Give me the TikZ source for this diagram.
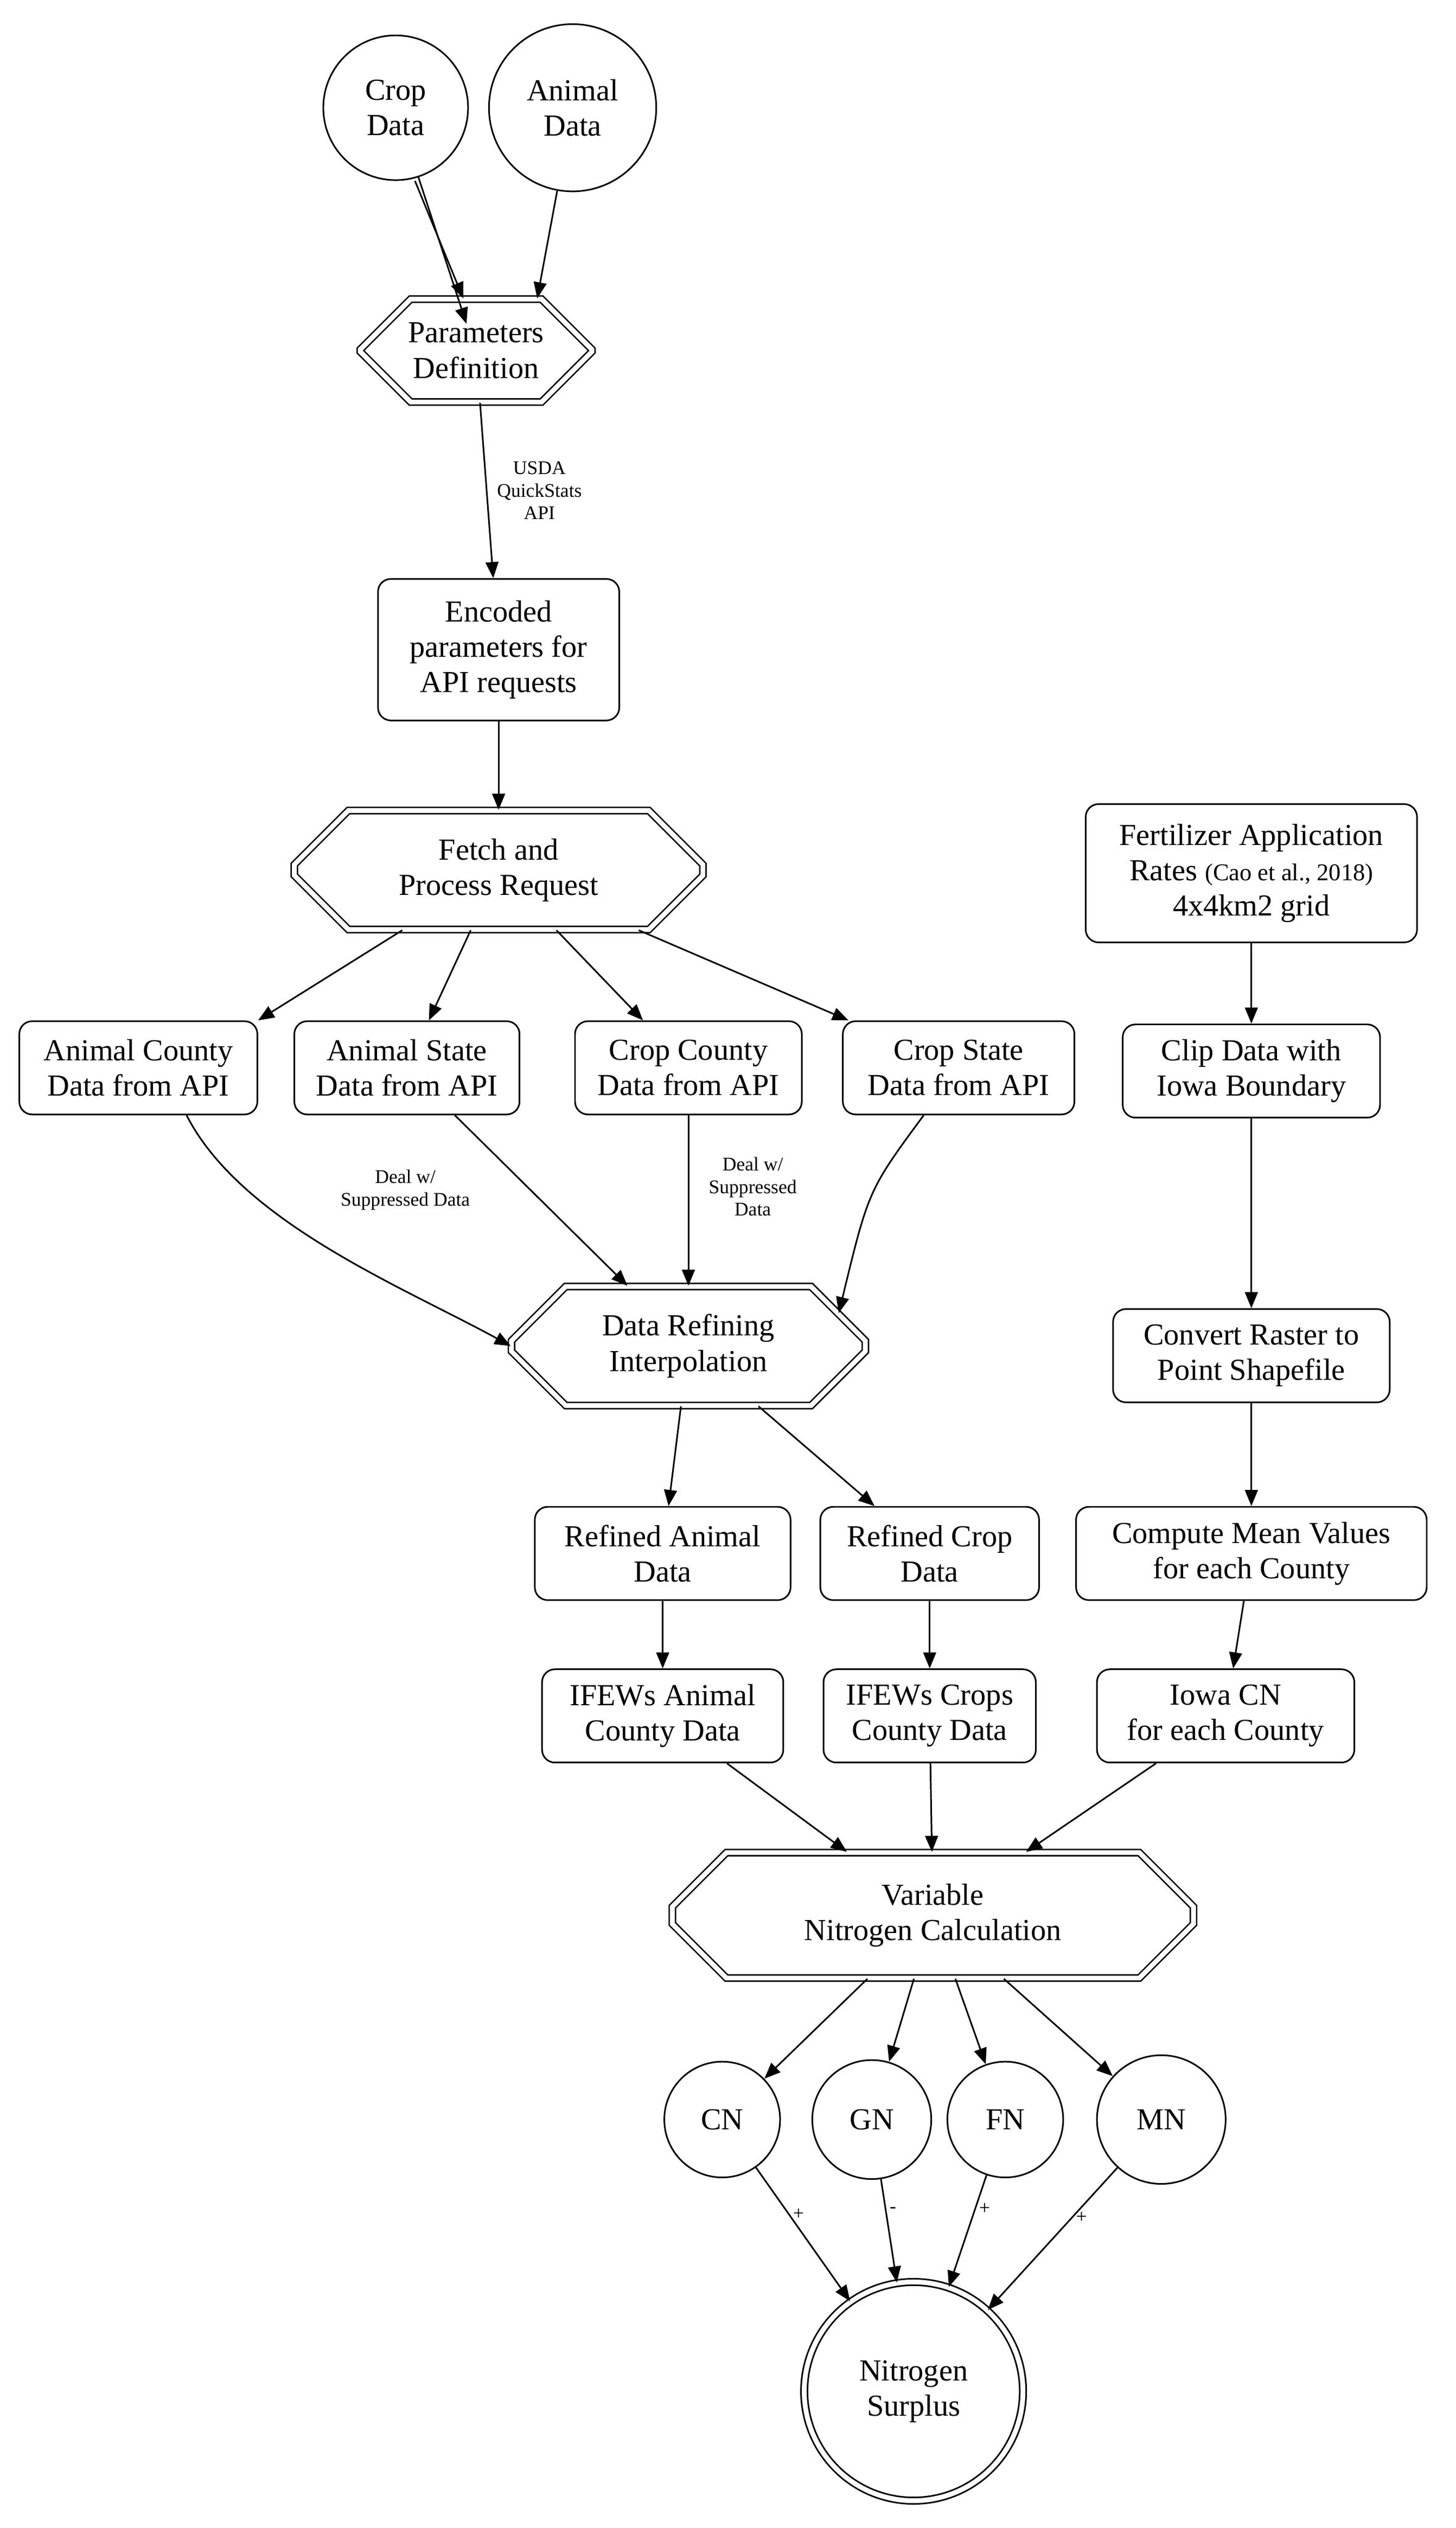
\documentclass[tikz,border=0pt]{standalone}
\usepackage{fontspec}
\setmainfont{Liberation Serif}
\usetikzlibrary{shapes.misc,shapes.geometric,arrows.meta}
\begin{document}
\begin{tikzpicture}[x=1pt,y=-1pt,
  every node/.style={font=\fontsize{19}{22}\selectfont,align=center,inner sep=0pt},
  box/.style={draw,rounded corners=8pt,line width=1pt},
  circ/.style={draw,circle,line width=1pt},
  oct/.style={draw,chamfered rectangle,chamfered rectangle xsep=28pt,chamfered rectangle ysep=14pt,double,double distance=3pt,line width=0.9pt},
  lab/.style={font=\fontsize{12}{14}\selectfont},
  arr/.style={-{Triangle[length=10pt,width=8pt]},line width=1pt}]
\useasboundingbox[fill=white] (0,0) rectangle (905,1572);
\node[circ,minimum size=90pt] (crop) at (246,67) {Crop\\Data};
\node[circ,minimum size=104pt] (anim) at (356,67) {Animal\\Data};
\node[oct,minimum width=144pt,minimum height=64pt] (param) at (296,218) {Parameters\\Definition};
\node[box,minimum width=150pt,minimum height=88pt] (enc) at (310,404) {Encoded\\parameters for\\API requests};
\node[oct,minimum width=254pt,minimum height=74pt] (fetch) at (310,541) {Fetch and\\Process Request};
\node[box,minimum width=148pt,minimum height=58pt] (ac) at (86,664) {Animal County\\Data from API};
\node[box,minimum width=140pt,minimum height=58pt] (as) at (253,664) {Animal State\\Data from API};
\node[box,minimum width=141pt,minimum height=58pt] (cc) at (428,664) {Crop County\\Data from API};
\node[box,minimum width=144pt,minimum height=58pt] (cs) at (596,664) {Crop State\\Data from API};
\node[box,minimum width=206pt,minimum height=86pt] (fert) at (778,543) {Fertilizer Application\\Rates {\fontsize{15}{18}\selectfont(Cao et al., 2018)}\\4x4km2 grid};
\node[box,minimum width=160pt,minimum height=58pt] (clip) at (778,666) {Clip Data with\\Iowa Boundary};
\node[oct,minimum width=220pt,minimum height=74pt] (refine) at (428,837) {Data Refining\\Interpolation};
\node[box,minimum width=172pt,minimum height=58pt] (conv) at (778,843) {Convert Raster to\\Point Shapefile};
\node[box,minimum width=159pt,minimum height=58pt] (ra) at (412,966) {Refined Animal\\Data};
\node[box,minimum width=136pt,minimum height=58pt] (rc) at (578,966) {Refined Crop\\Data};
\node[box,minimum width=218pt,minimum height=58pt] (cm) at (778,966) {Compute Mean Values\\for each County};
\node[box,minimum width=150pt,minimum height=58pt] (ia) at (412,1067) {IFEWs Animal\\County Data};
\node[box,minimum width=132pt,minimum height=58pt] (ic) at (578,1067) {IFEWs Crops\\County Data};
\node[box,minimum width=160pt,minimum height=58pt] (icn) at (762,1067) {Iowa CN\\for each County};
\node[oct,minimum width=324pt,minimum height=78pt,chamfered rectangle xsep=36pt] (var) at (580,1191) {Variable\\Nitrogen Calculation};
\node[circ,minimum size=72pt] (cn) at (449,1318) {CN};
\node[circ,minimum size=74pt] (gn) at (542,1318) {GN};
\node[circ,minimum size=72pt] (fn) at (625,1318) {FN};
\node[circ,minimum size=80pt] (mn) at (722,1318) {MN};
\node[circ,double,double distance=3pt,minimum size=136pt] (ns) at (568,1487) {Nitrogen\\Surplus};

\draw[arr] (crop) -- (param.north west -| 290,0);
\draw[arr] (crop.south) ++(12,0) -- ([xshift=-8pt]param.north);
\draw[arr] (anim) -- ([xshift=38pt]param.north);
\draw[arr] (param) -- node[lab,right=6pt] {USDA\\QuickStats\\API} (enc);
\draw[arr] (enc) -- (fetch);
\draw[arr] (fetch) -- (ac.north east);
\draw[arr] (fetch) -- (as);
\draw[arr] (fetch) -- (cc);
\draw[arr] (fetch) -- (cs);
\draw[arr] (ac.south) ++(30,0) .. controls (150,760) and (250,800) .. (refine.west);
\draw[arr] (as) -- (refine);
\draw[arr] (cc) -- (refine.north);
\draw[arr] (cs) .. controls (540,740) .. (refine.north east);
\node[lab] at (252,740) {Deal w/\\Suppressed Data};
\node[lab] at (468,738) {Deal w/\\Suppressed\\Data};
\draw[arr] (fert) -- (clip);
\draw[arr] (clip) -- (conv);
\draw[arr] (conv) -- (cm);
\draw[arr] (cm) -- (icn);
\draw[arr] (refine) -- (ra);
\draw[arr] (refine) -- (rc);
\draw[arr] (ra) -- (ia);
\draw[arr] (rc) -- (ic);
\draw[arr] (ia) -- (var);
\draw[arr] (ic) -- (var);
\draw[arr] (icn) -- (var);
\draw[arr] (var) -- (cn);
\draw[arr] (var) -- (gn);
\draw[arr] (var) -- (fn);
\draw[arr] (var) -- (mn);
\draw[arr] (cn) -- node[lab,pos=0.35,right=2pt] {+} (ns);
\draw[arr] (gn) -- node[lab,pos=0.3,right=2pt] {-} (ns);
\draw[arr] (fn) -- node[lab,pos=0.3,right=2pt] {+} (ns);
\draw[arr] (mn) -- node[lab,pos=0.35,right=2pt] {+} (ns);
\end{tikzpicture}
\end{document}
